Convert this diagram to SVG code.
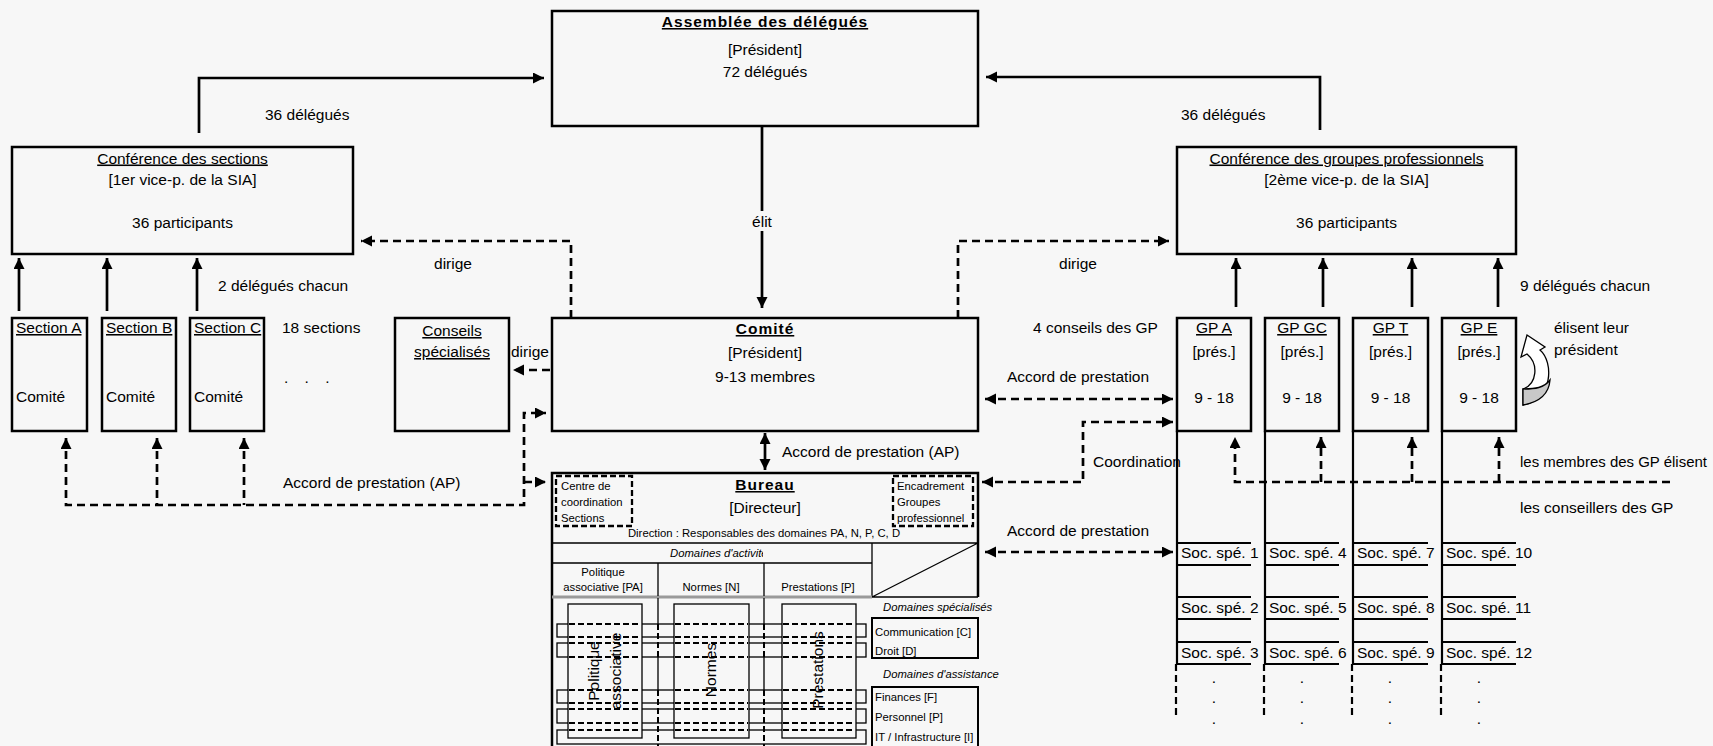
<svg xmlns="http://www.w3.org/2000/svg" width="1713" height="746" viewBox="0 0 1713 746">
  <style>
    text { font-family: "Liberation Sans", Arial, sans-serif; fill: #000; }
    .t { font-size: 15.5px; }
    .c { text-anchor: middle; }
    .b { font-weight: bold; letter-spacing: 1px; }
    .u { text-decoration: underline; }
    .s { font-size: 11.3px; }
    .i { font-style: italic; }
    .box { fill: #f7f7f7; stroke: #000; stroke-width: 2.5; }
    .thin { fill: none; stroke: #000; stroke-width: 1.3; }
    .thinbox { fill: #f7f7f7; stroke: #000; stroke-width: 1.3; }
    .mid { fill: none; stroke: #000; stroke-width: 2.2; }
    .hid { fill: none; stroke: #000; stroke-width: 2; stroke-dasharray: 6 3; }
    .dbox { fill: none; stroke: #000; stroke-width: 2.3; stroke-dasharray: 6 3; }
    .conn { fill: none; stroke: #000; stroke-width: 2.7; }
    .dash { fill: none; stroke: #000; stroke-width: 2.7; stroke-dasharray: 8 5; }
    .dots { fill: none; stroke: #000; stroke-width: 2.2; stroke-dasharray: 7 4; }
  </style>
  <defs>
    <marker id="ah" markerUnits="userSpaceOnUse" markerWidth="12" markerHeight="12" refX="11" refY="5.5" orient="auto-start-reverse">
      <path d="M0,0 L11,5.5 L0,11 Z" fill="#000"/>
    </marker>
    <clipPath id="clipAct">
      <rect x="552" y="543" width="211" height="20"/>
    </clipPath>
  </defs>

  <rect x="0" y="0" width="1713" height="746" fill="#f7f7f7"/>

  <!-- connectors -->
  <g id="connectors">
    <!-- delegates to the assembly -->
    <path class="conn" d="M199,133 V78 H544" marker-end="url(#ah)"/>
    <path class="conn" d="M1320,130 V77 H986" marker-end="url(#ah)"/>
    <!-- assembly elects committee -->
    <path class="conn" d="M762,126 V308" marker-end="url(#ah)"/>
    <!-- committee directs the conferences -->
    <path class="dash" d="M571,318 V241 H361" marker-end="url(#ah)"/>
    <path class="dash" d="M958,318 V241 H1169" marker-end="url(#ah)"/>
    <!-- sections to conference -->
    <path class="conn" d="M19,311 V258" marker-end="url(#ah)"/>
    <path class="conn" d="M107,311 V258" marker-end="url(#ah)"/>
    <path class="conn" d="M197,311 V258" marker-end="url(#ah)"/>
    <!-- professional groups to conference -->
    <path class="conn" d="M1236,307 V258" marker-end="url(#ah)"/>
    <path class="conn" d="M1323,307 V258" marker-end="url(#ah)"/>
    <path class="conn" d="M1412,307 V258" marker-end="url(#ah)"/>
    <path class="conn" d="M1498,307 V258" marker-end="url(#ah)"/>
    <!-- committee directs special councils -->
    <path class="dash" d="M550,370 H513" marker-end="url(#ah)"/>
    <!-- service agreements with sections -->
    <path class="dash" d="M66,438 V505 H524 V413 H546" marker-start="url(#ah)" marker-end="url(#ah)"/>
    <path class="dash" d="M157,438 V505" marker-start="url(#ah)"/>
    <path class="dash" d="M244,438 V505" marker-start="url(#ah)"/>
    <path class="dash" d="M524,482 H546" marker-end="url(#ah)"/>
    <!-- committee <-> office -->
    <path class="conn" d="M765,433 V470" marker-start="url(#ah)" marker-end="url(#ah)"/>
    <!-- right side agreements and coordination -->
    <path class="dash" d="M985,399 H1173" marker-start="url(#ah)" marker-end="url(#ah)"/>
    <path class="dash" d="M982,482 H1083 V422 H1173" marker-start="url(#ah)" marker-end="url(#ah)"/>
    <path class="dash" d="M985,552 H1173" marker-start="url(#ah)" marker-end="url(#ah)"/>
    <!-- GP members elect councillors -->
    <path class="dash" d="M1670,482 H1235 V437" marker-end="url(#ah)"/>
    <path class="dash" d="M1321,482 V437" marker-end="url(#ah)"/>
    <path class="dash" d="M1412,482 V437" marker-end="url(#ah)"/>
    <path class="dash" d="M1499,482 V437" marker-end="url(#ah)"/>
  </g>

  <!-- connector labels -->
  <g id="labels" class="t">
    <text x="265" y="120">36 délégués</text>
    <text x="1181" y="120">36 délégués</text>
    <rect x="750" y="211" width="24" height="20" fill="#f7f7f7"/>
    <text x="762" y="227" class="c">élit</text>
    <text x="453" y="269" class="c">dirige</text>
    <text x="1078" y="269" class="c">dirige</text>
    <text x="218" y="291">2 délégués chacun</text>
    <text x="1520" y="291">9 délégués chacun</text>
    <text x="282" y="333">18 sections</text>
    <text x="284" y="383" style="word-spacing:12px">. . .</text>
    <text x="511" y="357">dirige</text>
    <text x="283" y="488">Accord de prestation (AP)</text>
    <text x="782" y="457">Accord de prestation (AP)</text>
    <text x="1033" y="333">4 conseils des GP</text>
    <text x="1078" y="382" class="c">Accord de prestation</text>
    <text x="1093" y="467">Coordination</text>
    <text x="1078" y="536" class="c">Accord de prestation</text>
    <text x="1554" y="333">élisent leur</text>
    <text x="1554" y="355">président</text>
    <text x="1520" y="467" textLength="187" lengthAdjust="spacingAndGlyphs">les membres des GP élisent</text>
    <text x="1520" y="513">les conseillers des GP</text>
  </g>

  <!-- curved arrow: groups elect their president -->
  <g id="elect-arrow">
    <path d="M1523,405 C1553,400 1554,362 1540,350 L1545,347 L1527,335 L1521,357 L1527,354 C1539,364 1537,384 1523,389 Z" fill="#fff" stroke="#000" stroke-width="1.3"/>
    <path d="M1523,405 C1540,402 1549,393 1550,380 C1544,388 1535,389 1523,389 Z" fill="#c8c8c8" stroke="#000" stroke-width="1.3"/>
  </g>

  <g id="assemblee">
    <rect class="box" x="552" y="11" width="426" height="115"/>
    <text class="t c b u" x="765" y="27">Assemblée des délégués</text>
    <text class="t c" x="765" y="54.5">[Président]</text>
    <text class="t c" x="765" y="77">72 délégués</text>
  </g>

  <g id="conf-sections">
    <rect class="box" x="12" y="147" width="341" height="107"/>
    <text class="t c u" x="182.5" y="163.5">Conférence des sections</text>
    <text class="t c" x="182.5" y="184.5">[1er vice-p. de la SIA]</text>
    <text class="t c" x="182.5" y="227.5">36 participants</text>
  </g>

  <g id="conf-gp">
    <rect class="box" x="1177" y="147" width="339" height="107"/>
    <text class="t c u" x="1346.5" y="163.5">Conférence des groupes professionnels</text>
    <text class="t c" x="1346.5" y="184.5">[2ème vice-p. de la SIA]</text>
    <text class="t c" x="1346.5" y="227.5">36 participants</text>
  </g>

  <g id="section-a">
    <rect class="box" x="12" y="318" width="75" height="113"/>
    <text class="t u" x="16" y="333">Section A</text>
    <text class="t" x="16" y="402">Comité</text>
  </g>
  <g id="section-b">
    <rect class="box" x="102" y="318" width="74" height="113"/>
    <text class="t u" x="106" y="333">Section B</text>
    <text class="t" x="106" y="402">Comité</text>
  </g>
  <g id="section-c">
    <rect class="box" x="190" y="318" width="74" height="113"/>
    <text class="t u" x="194" y="333">Section C</text>
    <text class="t" x="194" y="402">Comité</text>
  </g>

  <g id="conseils">
    <rect class="box" x="395" y="318" width="114" height="113"/>
    <text class="t c u" x="452" y="336">Conseils</text>
    <text class="t c u" x="452" y="357">spécialisés</text>
  </g>

  <g id="comite">
    <rect class="box" x="552" y="318" width="426" height="113"/>
    <text class="t c b u" x="765" y="334">Comité</text>
    <text class="t c" x="765" y="358">[Président]</text>
    <text class="t c" x="765" y="382">9-13 membres</text>
  </g>

  <!-- professional groups with their specialist societies -->
  <g id="gp-a">
    <rect class="box" x="1177" y="318" width="74" height="113"/>
    <text class="t c u" x="1214" y="333">GP A</text>
    <text class="t c" x="1214" y="357">[prés.]</text>
    <text class="t c" x="1214" y="403">9 - 18</text>
  </g>
  <g id="gp-gc">
    <rect class="box" x="1265" y="318" width="74" height="113"/>
    <text class="t c u" x="1302" y="333">GP GC</text>
    <text class="t c" x="1302" y="357">[prés.]</text>
    <text class="t c" x="1302" y="403">9 - 18</text>
  </g>
  <g id="gp-t">
    <rect class="box" x="1353" y="318" width="75" height="113"/>
    <text class="t c u" x="1390.5" y="333">GP T</text>
    <text class="t c" x="1390.5" y="357">[prés.]</text>
    <text class="t c" x="1390.5" y="403">9 - 18</text>
  </g>
  <g id="gp-e">
    <rect class="box" x="1442" y="318" width="74" height="113"/>
    <text class="t c u" x="1479" y="333">GP E</text>
    <text class="t c" x="1479" y="357">[prés.]</text>
    <text class="t c" x="1479" y="403">9 - 18</text>
  </g>

  <g id="societes">
    <g class="mid">
      <path d="M1177,431 V664 M1265,431 V664 M1353,431 V664 M1442,431 V664"/>
      <path d="M1177,543 H1251 M1177,565 H1251 M1177,597 H1251 M1177,619 H1251 M1177,642 H1251 M1177,664 H1251"/>
      <path d="M1265,543 H1339 M1265,565 H1339 M1265,597 H1339 M1265,619 H1339 M1265,642 H1339 M1265,664 H1339"/>
      <path d="M1353,543 H1428 M1353,565 H1428 M1353,597 H1428 M1353,619 H1428 M1353,642 H1428 M1353,664 H1428"/>
      <path d="M1442,543 H1516 M1442,565 H1516 M1442,597 H1516 M1442,619 H1516 M1442,642 H1516 M1442,664 H1516"/>
    </g>
    <path class="dots" d="M1176,664 V718 M1264,664 V718 M1352,664 V718 M1441,664 V718"/>
    <g class="t">
      <text x="1181" y="558">Soc. spé. 1</text>
      <text x="1181" y="612.5">Soc. spé. 2</text>
      <text x="1181" y="658">Soc. spé. 3</text>
      <text x="1269" y="558">Soc. spé. 4</text>
      <text x="1269" y="612.5">Soc. spé. 5</text>
      <text x="1269" y="658">Soc. spé. 6</text>
      <text x="1357" y="558">Soc. spé. 7</text>
      <text x="1357" y="612.5">Soc. spé. 8</text>
      <text x="1357" y="658">Soc. spé. 9</text>
      <text x="1446" y="558">Soc. spé. 10</text>
      <text x="1446" y="612.5">Soc. spé. 11</text>
      <text x="1446" y="658">Soc. spé. 12</text>
    </g>
    <g class="t c">
      <text x="1214" y="683">.</text><text x="1214" y="703">.</text><text x="1214" y="724">.</text>
      <text x="1302" y="683">.</text><text x="1302" y="703">.</text><text x="1302" y="724">.</text>
      <text x="1390" y="683">.</text><text x="1390" y="703">.</text><text x="1390" y="724">.</text>
      <text x="1479" y="683">.</text><text x="1479" y="703">.</text><text x="1479" y="724">.</text>
    </g>
  </g>

  <!-- office: header, activity columns and cross-cutting domains -->
  <g id="bureau">
    <rect x="552" y="473" width="426" height="273" fill="#f7f7f7"/>
    <path class="box" d="M552,746 V473 H978 V597"/>
    <rect class="dbox" x="556" y="476" width="76" height="50"/>
    <rect class="dbox" x="893" y="476" width="80" height="50"/>
    <g class="s">
      <text x="561" y="490">Centre de</text>
      <text x="561" y="506">coordination</text>
      <text x="561" y="522">Sections</text>
      <text x="897" y="490">Encadrement</text>
      <text x="897" y="506">Groupes</text>
      <text x="897" y="522">professionnel</text>
    </g>
    <text class="t c b u" x="765" y="490">Bureau</text>
    <text class="t c" x="765" y="513">[Directeur]</text>
    <text class="s c" x="764" y="537">Direction : Responsables des domaines PA, N, P, C, D</text>

    <path class="thin" d="M552,543 H978 M552,563 H872 M872,543 V597 H978 M872,597 L978,543"/>
    <path d="M552,597 H872" stroke="#9a9a9a" stroke-width="3"/>
    <text class="s i" x="670" y="557" clip-path="url(#clipAct)">Domaines d'activité</text>
    <text class="s c" x="603" y="576">Politique</text>
    <text class="s c" x="603" y="591">associative [PA]</text>
    <text class="s c" x="711" y="591">Normes [N]</text>
    <text class="s c" x="818" y="591">Prestations [P]</text>

    <!-- column dividers, hidden where the domain bars cross them -->
    <path class="thin" d="M658,563 V596 M658,598 V624 M658,657 V690 M764,563 V596 M764,598 V624 M764,657 V690"/>

    <!-- domain bars -->
    <rect class="thinbox" x="557" y="624" width="309" height="13"/>
    <rect class="thinbox" x="557" y="643" width="309" height="14"/>
    <rect class="thinbox" x="557" y="690" width="309" height="13"/>
    <rect class="thinbox" x="557" y="709" width="309" height="14"/>
    <rect class="thinbox" x="557" y="730" width="309" height="14"/>
    <path class="hid" d="M658,624 V657 M658,690 V746 M764,624 V657 M764,690 V746"/>

    <!-- activity columns -->
    <rect class="thinbox" x="568" y="604" width="74" height="134"/>
    <rect class="thinbox" x="674" y="604" width="75" height="134"/>
    <rect class="thinbox" x="782" y="604" width="74" height="134"/>
    <path class="hid" d="M569,624 H641 M569,637 H641 M569,643 H641 M569,657 H641 M569,690 H641 M569,703 H641 M569,709 H641 M569,723 H641 M569,730 H641"/>
    <path class="hid" d="M675,624 H748 M675,637 H748 M675,643 H748 M675,657 H748 M675,690 H748 M675,703 H748 M675,709 H748 M675,723 H748 M675,730 H748"/>
    <path class="hid" d="M783,624 H855 M783,637 H855 M783,643 H855 M783,657 H855 M783,690 H855 M783,703 H855 M783,709 H855 M783,723 H855 M783,730 H855"/>
    <g class="t c" dominant-baseline="central">
      <text transform="translate(593,671) rotate(-90)">Politique</text>
      <text transform="translate(615,671) rotate(-90)">associative</text>
      <text transform="translate(710,670) rotate(-90)">Normes</text>
      <text transform="translate(817,670) rotate(-90)">Prestations</text>
    </g>

    <!-- specialised and support domains -->
    <text class="s i" x="883" y="611">Domaines spécialisés</text>
    <rect x="872" y="618" width="106" height="40" fill="#f7f7f7" stroke="#000" stroke-width="2"/>
    <text class="s" x="875" y="636">Communication [C]</text>
    <text class="s" x="875" y="655">Droit [D]</text>
    <text class="s i" x="883" y="678">Domaines d'assistance</text>
    <rect x="872" y="687" width="106" height="70" fill="#f7f7f7" stroke="#000" stroke-width="2"/>
    <text class="s" x="875" y="701">Finances [F]</text>
    <text class="s" x="875" y="721">Personnel [P]</text>
    <text class="s" x="875" y="741">IT / Infrastructure [I]</text>
  </g>
</svg>
